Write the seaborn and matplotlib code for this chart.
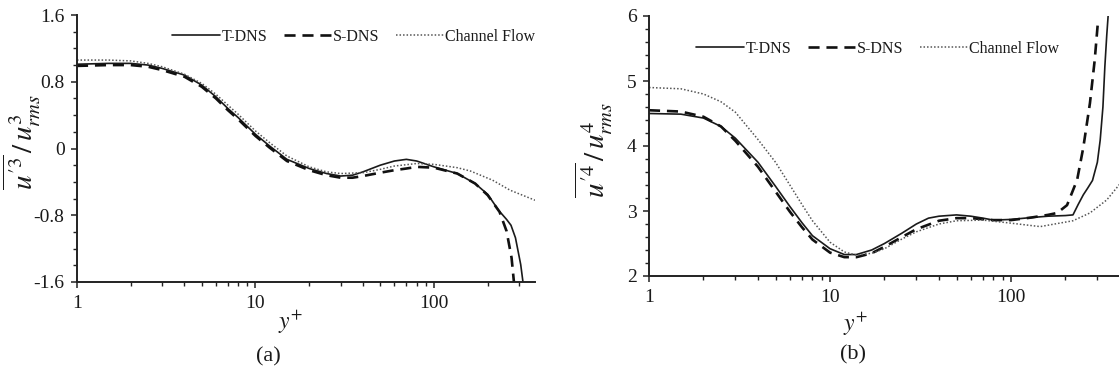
import numpy as np
import pandas as pd
import matplotlib
matplotlib.use("Agg")
import matplotlib.pyplot as plt
import matplotlib.ticker as mticker
import seaborn as sns

# ---------------- data: panel (a) skewness ----------------
a_t_x = [1, 1.5, 2, 2.5, 3, 4, 5, 6, 7, 8, 10, 12, 15, 20, 25, 30, 35, 40, 50, 60, 70, 80, 100,
         135, 170, 200, 230, 255, 270, 286, 306, 316]
a_t_y = [1.01, 1.02, 1.02, 1.0, 0.96, 0.88, 0.76, 0.62, 0.48, 0.37, 0.17, 0.03, -0.13, -0.24, -0.30,
         -0.33, -0.32, -0.28, -0.20, -0.15, -0.13, -0.15, -0.22, -0.30, -0.42, -0.55, -0.74, -0.85,
         -0.92, -1.07, -1.39, -1.62]
a_s_x = [1, 1.5, 2, 2.5, 3, 4, 5, 6, 7, 8, 10, 12, 15, 20, 25, 30, 35, 40, 50, 60, 70, 80, 100,
         135, 170, 200, 233, 255, 272, 281]
a_s_y = [0.99, 1.0, 1.0, 0.98, 0.94, 0.86, 0.74, 0.60, 0.46, 0.35, 0.15, 0.01, -0.15, -0.26, -0.32,
         -0.35, -0.35, -0.33, -0.29, -0.26, -0.24, -0.22, -0.23, -0.30, -0.42, -0.56, -0.76, -0.99,
         -1.31, -1.62]
a_c_x = [1, 1.5, 2, 2.5, 3, 4, 5, 6, 7, 8, 10, 12, 15, 20, 25, 30, 40, 50, 60, 80, 100, 135, 160,
         213, 267, 368]
a_c_y = [1.06, 1.06, 1.05, 1.02, 0.98, 0.89, 0.78, 0.65, 0.52, 0.41, 0.21, 0.07, -0.09, -0.22, -0.28,
         -0.30, -0.29, -0.25, -0.21, -0.18, -0.19, -0.23, -0.27, -0.38, -0.50, -0.62]

# ---------------- data: panel (b) flatness ----------------
b_t_x = [1, 1.5, 2, 2.5, 3, 4, 5, 6, 7, 8, 10, 12, 14, 17, 20, 25, 30, 35, 40, 50, 60, 70, 80, 100,
         130, 160, 200, 220, 235, 251, 265, 282, 300, 311, 322, 330, 338, 344]
b_t_y = [4.50, 4.49, 4.43, 4.30, 4.12, 3.75, 3.38, 3.07, 2.82, 2.62, 2.42, 2.33, 2.33, 2.40, 2.50,
         2.66, 2.80, 2.89, 2.92, 2.94, 2.92, 2.89, 2.86, 2.87, 2.90, 2.92, 2.93, 2.94, 3.10, 3.25,
         3.35, 3.47, 3.75, 4.09, 4.60, 5.22, 5.70, 6.0]
b_s_x = [1, 1.5, 2, 2.5, 3, 4, 5, 6, 7, 8, 10, 12, 14, 17, 20, 25, 30, 40, 50, 60, 80, 100, 130,
         160, 180, 204, 232, 251, 273, 290, 302]
b_s_y = [4.55, 4.53, 4.45, 4.30, 4.08, 3.68, 3.30, 2.99, 2.75, 2.56, 2.36, 2.29, 2.29, 2.35, 2.45,
         2.60, 2.72, 2.85, 2.89, 2.89, 2.86, 2.86, 2.90, 2.94, 2.97, 3.09, 3.48, 3.98, 4.66, 5.32, 5.90]
b_c_x = [1, 1.5, 2, 2.5, 3, 4, 5, 6, 7, 8, 10, 12, 14, 17, 20, 25, 30, 40, 50, 70, 95, 145, 220,
         273, 338, 395, 470]
b_c_y = [4.90, 4.88, 4.80, 4.68, 4.52, 4.10, 3.75, 3.40, 3.10, 2.85, 2.52, 2.37, 2.32, 2.35, 2.42,
         2.57, 2.68, 2.80, 2.85, 2.86, 2.82, 2.76, 2.85, 2.97, 3.17, 3.40, 3.62]

series_labels = ["T-DNS", "S-DNS", "Channel Flow"]
a_ticks = [-1.6, -0.8, 0, 0.8, 1.6]
a_ticklabels = ["-1.6", "-0.8", "0", "0.8", "1.6"]
b_ticks = [2, 3, 4, 5, 6]
x_ticks = [1, 10, 100]

sns.set_theme(style="ticks")
plt.rcParams["font.family"] = ["Liberation Serif", "DejaVu Serif"]
plt.rcParams["mathtext.fontset"] = "stix"

W, H = 1119, 381
fig = plt.figure(figsize=(W / 100, H / 100), dpi=100)
fig.patch.set_facecolor("white")

def px_axes(left, top, right, bottom):
    return fig.add_axes([left / W, 1 - bottom / H, (right - left) / W, (bottom - top) / H])

ax1 = px_axes(77, 15, 535, 282)
ax2 = px_axes(649, 16, 649 + 3 * 181, 276)

styles = [
    dict(color="#1a1a1a", lw=1.2, ls="-"),
    dict(color="#111111", lw=1.9, ls=(0, (4.2, 2.6))),
    dict(color="#555555", lw=1.1, ls=(0, (1.0, 1.3))),
]

def draw(ax, xs, ys):
    for (x, y), lab, st in zip(zip(xs, ys), series_labels, styles):
        df = pd.DataFrame({"x": x, "y": y})
        sns.lineplot(data=df, x="x", y="y", ax=ax, estimator=None, sort=False,
                     color=st["color"], lw=st["lw"], linestyle=st["ls"], label=lab)

draw(ax1, [a_t_x, a_s_x, a_c_x], [a_t_y, a_s_y, a_c_y])
draw(ax2, [b_t_x, b_s_x, b_c_x], [b_t_y, b_s_y, b_c_y])

for ax in (ax1, ax2):
    ax.set_xscale("log")
    ax.xaxis.set_major_locator(mticker.FixedLocator(x_ticks))
    ax.xaxis.set_major_formatter(mticker.FuncFormatter(lambda v, p: "%g" % v))
    ax.xaxis.set_minor_locator(mticker.LogLocator(base=10, subs=np.arange(2, 10)))
    ax.xaxis.set_minor_formatter(mticker.NullFormatter())
    ax.yaxis.set_minor_locator(mticker.MultipleLocator(0.2))
    for s in ("top", "right"):
        ax.spines[s].set_visible(False)
    for s in ("left", "bottom"):
        ax.spines[s].set_linewidth(1.4)
        ax.spines[s].set_color("#222222")
    ax.tick_params(which="major", direction="out", length=4, width=1.1, color="#222222",
                   labelsize=14, labelcolor="#1a1a1a", pad=5)
    ax.tick_params(which="minor", direction="out", length=3, width=1.0, color="#222222")
    ax.set_xlabel("")
    ax.set_ylabel("")
    ax.set_facecolor("white")

ax1.set_xlim(1, 368)
ax1.set_ylim(-1.6, 1.6)
ax1.set_yticks(a_ticks)
ax1.set_yticklabels(a_ticklabels)

ax2.set_xlim(1, 1000)
ax2.set_ylim(2, 6)
ax2.set_yticks(b_ticks)
ax2.yaxis.set_major_formatter(mticker.FuncFormatter(lambda v, p: "%g" % v))

leg_kw = dict(ncol=3, frameon=False, fontsize=11.5, handlelength=3.0, handletextpad=0.1,
              columnspacing=1.0, borderaxespad=0)
ax1.legend(loc="center left", bbox_to_anchor=((166 - 77) / 458, 1 - (37 - 15) / 267), **leg_kw)
ax2.legend(loc="center left", bbox_to_anchor=((690 - 649) / 543, 1 - (49 - 16) / 260), **leg_kw)
for leg in (ax1.get_legend(), ax2.get_legend()):
    for t in leg.get_texts():
        t.set_color("#1a1a1a")

# axis labels and panel captions
fig.text(22 / W, 1 - 142 / H, r"$\overline{u^{\prime 3}}\,/\,u^{3}_{rms}$", rotation=90, ha="center",
         va="center", fontsize=21, color="#1a1a1a")
fig.text(594 / W, 1 - 150 / H, r"$\overline{u^{\prime 4}}\,/\,u^{4}_{rms}$", rotation=90, ha="center",
         va="center", fontsize=21, color="#1a1a1a")
fig.text(291 / W, 1 - 322 / H, r"$y^{+}$", ha="center", va="center", fontsize=17, color="#1a1a1a")
fig.text(856 / W, 1 - 324 / H, r"$y^{+}$", ha="center", va="center", fontsize=17, color="#1a1a1a")
fig.text(268 / W, 1 - 357 / H, "(a)", ha="center", va="center", fontsize=16, color="#1a1a1a")
fig.text(853 / W, 1 - 355 / H, "(b)", ha="center", va="center", fontsize=16, color="#1a1a1a")

fig.savefig("out.png", dpi=100)
